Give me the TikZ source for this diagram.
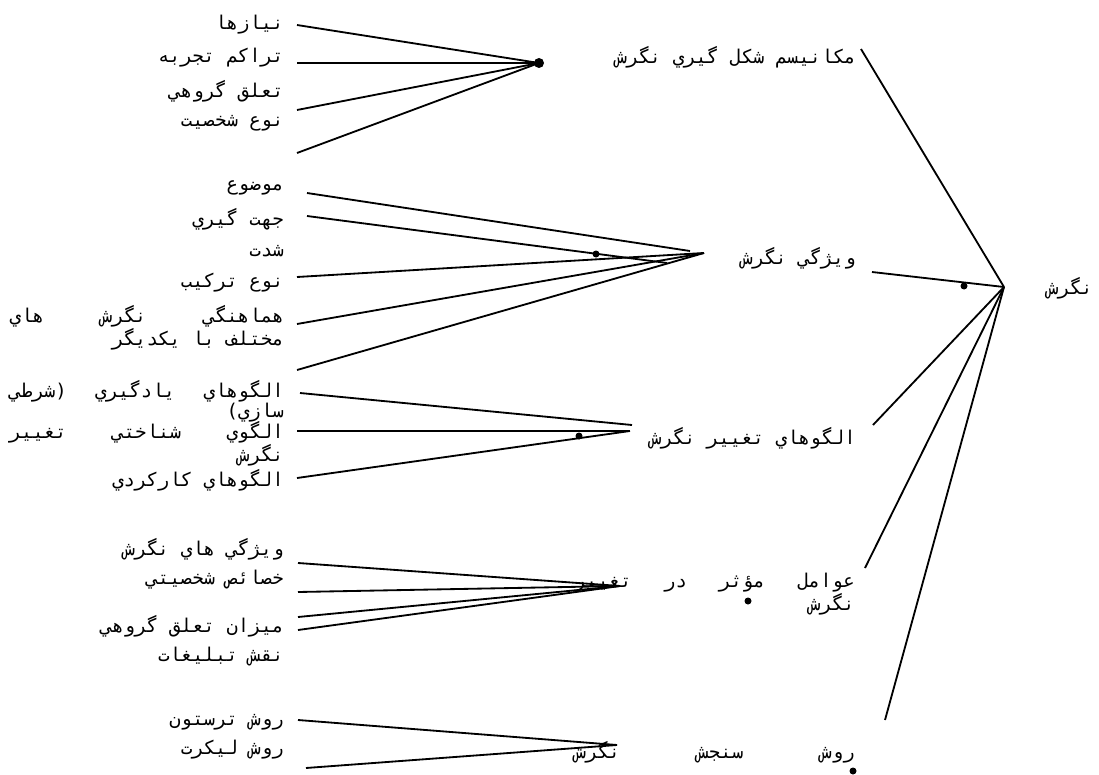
\documentclass[tikz,border=0pt]{standalone}
\usepackage{fontspec}
\newfontfamily\farsi[Script=Arabic]{DejaVu Sans Mono}
\TeXXeTstate=1
\newcommand{\rl}[1]{\beginR #1\endR}
\newcommand{\jrow}[2]{\hbox to #1{\beginR #2\endR}}
\tikzset{
  lbl/.style={anchor=east,inner sep=0pt,align=right,
    font=\farsi\fontsize{13.5}{12.8}\selectfont},
  link/.style={line width=1.3pt}
}

\begin{document}
\begin{tikzpicture}[x=0.025cm,y=-0.025cm]
  \useasboundingbox (0,0) rectangle (1099,775);
  % root
  \node[lbl] (att) at (1093,288) {\rl{نگرش}};
  \coordinate (hub) at (1004,287);
  % branches
  \node[lbl] (mech) at (856,57) {\rl{مكانيسم شكل گيري نگرش}};
  \node[lbl] (feat) at (856,258) {\rl{ويژگي نگرش}};
  \node[lbl] (chg) at (856,438) {\rl{الگوهاي تغيير نگرش}};
  \node[lbl] (fac) at (855,594) {\jrow{7cm}{عوامل\hfill مؤثر\hfill در\hfill تغيير}\\\rl{نگرش}};
  \node[lbl] (meas) at (855,752) {\jrow{7cm}{روش\hfill سنجش\hfill نگرش}};
  \coordinate (r1) at (861,49);
  \coordinate (r2) at (872,272);
  \coordinate (r3) at (873,425);
  \coordinate (r4) at (865,568);
  \coordinate (r5) at (885,720);
  \foreach \i in {1,...,5}
    \draw[link] (hub) -- (r\i);
  \fill (964,286) circle [radius=3.5];

  % mechanism
  \node[lbl] (need) at (284,25) {\rl{نيازها}};
  \node[lbl] (exp) at (284,58) {\rl{تراكم تجربه}};
  \node[lbl] (grp) at (284,91) {\rl{تعلق گروهي}};
  \node[lbl] (pers) at (284,123) {\rl{نوع شخصيت}};
  \coordinate (h1) at (539,63);
  \foreach \y [count=\i] in {25,63,110,153} {
    \coordinate (m\i) at (297,\y);
    \draw[link] (m\i) -- (h1);
  }
  \fill (h1) circle [radius=5];

  % features
  \node[lbl] (obj) at (284,188) {\rl{موضوع}};
  \node[lbl] (dir) at (284,219) {\rl{جهت گيري}};
  \node[lbl] (int) at (284,251) {\rl{شدت}};
  \node[lbl] (comp) at (284,283) {\rl{نوع تركيب}};
  \node[lbl] (cons) at (284,328) {\jrow{6.85cm}{هماهنگي\hfill نگرش\hfill هاي}\\\rl{مختلف با يكديگر}};
  \coordinate (h2) at (704,253);
  \coordinate (f1) at (307,193);
  \coordinate (f1e) at (690,251);
  \coordinate (f2) at (307,216);
  \coordinate (f2e) at (667,263);
  \draw[link] (f1) -- (f1e);
  \draw[link] (f2) -- (f2e);
  \foreach \y [count=\i from 3] in {277,324,370} {
    \coordinate (f\i) at (297,\y);
    \draw[link] (f\i) -- (h2);
  }
  \fill (596,254) circle [radius=3.5];

  % change patterns
  \node[lbl] (lrn) at (284,401) {\jrow{6.85cm}{الگوهاي\hfill يادگيري\hfill (شرطي}\\\rl{سازي)}};
  \node[lbl] (cog) at (284,444) {\jrow{6.85cm}{الگوي\hfill شناختي\hfill تغيير}\\\rl{نگرش}};
  \node[lbl] (fun) at (284,480) {\rl{الگوهاي كاركردي}};
  \coordinate (c1) at (300,393);
  \coordinate (c1e) at (632,425);
  \coordinate (h3) at (630,431);
  \draw[link] (c1) -- (c1e);
  \foreach \y [count=\i from 2] in {431,478} {
    \coordinate (c\i) at (297,\y);
    \draw[link] (c\i) -- (h3);
  }
  \fill (579,436) circle [radius=3.5];

  % factors
  \node[lbl] (fatt) at (284,549) {\rl{ويژگي هاي نگرش}};
  \node[lbl] (trait) at (284,580) {\rl{خصائص شخصيتي}};
  \node[lbl] (bond) at (284,626) {\rl{ميزان تعلق گروهي}};
  \node[lbl] (prop) at (284,657) {\rl{نقش تبليغات}};
  \coordinate (h4) at (620,586);
  \foreach \y [count=\i] in {563,592,617,630} {
    \coordinate (a\i) at (298,\y);
    \draw[link] (a\i) -- (h4);
  }
  \fill (748,601) circle [radius=3.5];

  % measurement
  \node[lbl] (thur) at (284,722) {\rl{روش ترستون}};
  \node[lbl] (lik) at (284,750) {\rl{روش ليكرت}};
  \coordinate (h5) at (617,745);
  \coordinate (s1) at (298,720);
  \coordinate (s2) at (306,768);
  \draw[link] (s1) -- (h5);
  \draw[link] (s2) -- (h5);
  \fill (853,771) circle [radius=3.5];
\end{tikzpicture}
\end{document}
